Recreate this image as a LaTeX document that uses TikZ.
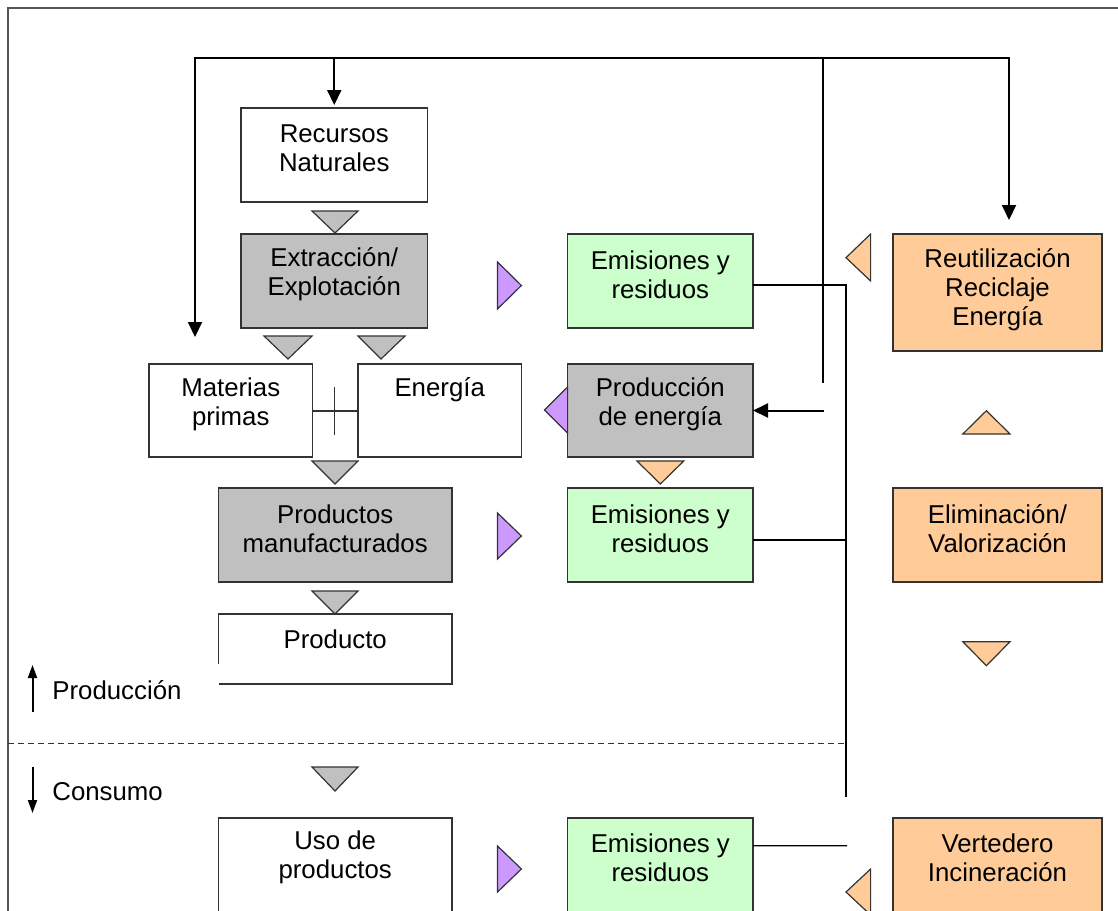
\documentclass[tikz,border=0pt]{standalone}
\usepackage{fontspec}
\setmainfont{Liberation Sans}
\usetikzlibrary{arrows.meta,calc}
\definecolor{boxgray}{HTML}{C0C0C0}
\definecolor{boxgreen}{HTML}{CCFFCC}
\definecolor{boxorange}{HTML}{FFCC99}
\definecolor{tripurple}{HTML}{CC99FF}
\definecolor{edge}{HTML}{333333}
\definecolor{frame}{HTML}{555555}

\begin{document}
\begin{tikzpicture}[x=0.5pt,y=-0.5pt,
  box/.style={draw=edge,line width=0.7pt,inner sep=0,outer sep=0},
  wide/.style={minimum width=93.25pt,minimum height=47pt},
  txt/.style={align=center,inner sep=0,font=\fontsize{12.9}{14.5}\selectfont},
  tri/.style={draw=edge,line width=0.6pt,line join=miter},
  feed/.style={line width=1pt},
  thin/.style={line width=0.6pt},
  bigtip/.style={-{Triangle[length=7.5pt,width=7pt]}},
  smalltip/.style={-{Triangle[length=6.5pt,width=4.5pt]}}
]
\useasboundingbox (0,0) rectangle (1118,910);
\clip (0,0) rectangle (1118,910);

% outer frame (only the top and left edges show)
\draw[line width=0.75pt,frame] (8,915) -- (8,8) -- (1118,8);

% ---------- production column ----------
\node[box,fill=white,wide] (rec) at (334.25,155) {};
\node[txt] (recT) at (334.25,148.5) {Recursos\\Naturales};

\node[box,fill=boxgray,wide] (ext) at (334.25,281) {};
\node[txt] (extT) at (334.25,274.5) {Extracción/\\Explotación};

\node[box,fill=white,minimum width=81.75pt,minimum height=46.5pt] (mat) at (230.75,410.5) {};
\node[txt] (matT) at (230.75,404.5) {Materias\\primas};

\node[box,fill=white,minimum width=81.7pt,minimum height=46.5pt] (ene) at (439.7,410.5) {};
\node[txt] (eneT) at (439.7,390) {Energía};

\node[box,fill=boxgray,minimum width=116.6pt,minimum height=47pt] (man) at (335.2,535) {};
\node[txt] (manT) at (335.2,528.5) {Productos\\manufacturados};

% product box: left edge stops short of the bottom corner
\node[inner sep=0,outer sep=0,minimum width=116.6pt,minimum height=35pt] (pro) at (335.2,649) {};
\draw[edge,line width=0.7pt] ([yshift=10pt]pro.south west) -- (pro.north west) -- (pro.north east) -- (pro.south east) -- (pro.south west);
\node[txt] (proT) at (335.2,639) {Producto};

\node[box,fill=white,minimum width=116.6pt,minimum height=47pt] (uso) at (335.2,865) {};
\node[txt] (usoT) at (335.2,857.5) {Uso de\\productos};

% ---------- emissions column ----------
\node[box,fill=boxgreen,minimum width=92.7pt,minimum height=47pt] (em1) at (660.3,281) {};
\node[txt] (em1T) at (660.3,274.5) {Emisiones y\\residuos};

\node[box,fill=boxgray,minimum width=92.7pt,minimum height=46.5pt] (pe) at (660.3,410.5) {};
\node[txt] (peT) at (660.3,404.5) {Producción\\de energía};

\node[box,fill=boxgreen,minimum width=92.7pt,minimum height=47pt] (em2) at (660.3,535) {};
\node[txt] (em2T) at (660.3,528.5) {Emisiones y\\residuos};

\node[box,fill=boxgreen,minimum width=92.7pt,minimum height=47pt] (em3) at (660.3,865) {};
\node[txt] (em3T) at (660.3,857.5) {Emisiones y\\residuos};

% ---------- treatment column ----------
\node[box,fill=boxorange,minimum width=104.5pt,minimum height=58.5pt] (reu) at (997.5,292.5) {};
\node[txt] (reuT) at (997.5,289.5) {Reutilización\\Reciclaje\\Energía};

\node[box,fill=boxorange,minimum width=104.5pt,minimum height=47pt] (eli) at (997.5,535) {};
\node[txt] (eliT) at (997.5,528.5) {Eliminación/\\Valorización};

\node[box,fill=boxorange,minimum width=104.5pt,minimum height=47pt] (ver) at (997.5,865) {};
\node[txt] (verT) at (997.5,857.5) {Vertedero\\Incineración};

% ---------- flow triangles ----------
\filldraw[tri,fill=boxgray] (312,211) -- (358,211) -- (335,233) -- cycle;
\filldraw[tri,fill=boxgray] (264,336) -- (312,336) -- (288,359) -- cycle;
\filldraw[tri,fill=boxgray] (358,336) -- (405,336) -- (381,359) -- cycle;
\filldraw[tri,fill=boxgray] (312,461) -- (358,461) -- (335,484) -- cycle;
\filldraw[tri,fill=boxgray] (312,591) -- (358,591) -- (335,614) -- cycle;
\filldraw[tri,fill=boxgray] (312,767) -- (358,767) -- (335,791) -- cycle;

\filldraw[tri,fill=tripurple] (497.5,262) -- (497.5,309) -- (521.4,285.5) -- cycle;
\filldraw[tri,fill=tripurple] (497.5,513) -- (497.5,559) -- (521.4,536) -- cycle;
\filldraw[tri,fill=tripurple] (497.5,846) -- (497.5,892) -- (521.4,869) -- cycle;
\filldraw[tri,fill=tripurple] (567.6,387) -- (567.6,433) -- (544.4,410) -- cycle;

\filldraw[tri,fill=boxorange] (637,461) -- (683.7,461) -- (660.3,484) -- cycle;
\filldraw[tri,fill=boxorange] (870.6,234) -- (870.6,281) -- (846,257.7) -- cycle;
\filldraw[tri,fill=boxorange] (962.8,434) -- (1010,434) -- (986.4,410.7) -- cycle;
\filldraw[tri,fill=boxorange] (962.8,641.7) -- (1010,641.7) -- (986.4,665.7) -- cycle;
\filldraw[tri,fill=boxorange] (870.6,869) -- (870.6,915) -- (846,892) -- cycle;

% ---------- Materias primas / Energía junction ----------
\coordinate (jx) at (334.6,411);
\draw[thin,edge] (mat.east |- jx) -- (ene.west |- jx);
\draw[thin,edge] ($(jx)+(0,-24)$) -- ($(jx)+(0,24)$);

% ---------- return loop ----------
\coordinate (loopL) at (195,58);
\coordinate (loopR) at (1009,58);
\coordinate (matIn) at (195,337);
\coordinate (reuIn) at (1009,220);
\coordinate (splitTop) at (823,58);
\coordinate (splitBot) at (823,383);
\coordinate (peIn) at (824,410.5);
\draw[feed,bigtip] (loopR) -- (loopL) -- (matIn);
\draw[feed,bigtip] (loopL) -- (loopR) -- (reuIn);
\draw[feed,bigtip,shorten >=1.5pt] (rec.north |- loopL) -- (rec.north);
\draw[thin] (splitTop) -- (splitBot);
\draw[feed,bigtip] (peIn) -- (pe.east);

% ---------- emissions collector ----------
\coordinate (col1) at (846,285);
\coordinate (colEnd) at (846,797);
\draw[thin] ($(em1.east)+(0,4)$) -- (col1) -- (colEnd);
\draw[thin] ($(em2.east)+(0,5)$) -- (846,540);
\draw[thin] ($(em3.east)+(0,-19.3)$) -- (847,845.7);

% ---------- production / consumption boundary ----------
\draw[thin,edge,dash pattern=on 3pt off 2pt] (8,743.7) -- (844,743.7);

\coordinate (upA) at (32.5,712);
\coordinate (upB) at (32.5,665);
\draw[feed,smalltip] (upA) -- (upB);
\node[txt,anchor=west] (prodL) at (52,690) {Producción};

\coordinate (dnA) at (32.5,767);
\coordinate (dnB) at (32.5,813);
\draw[feed,smalltip] (dnA) -- (dnB);
\node[txt,anchor=west] (consL) at (52,792) {Consumo};
\end{tikzpicture}
\end{document}
